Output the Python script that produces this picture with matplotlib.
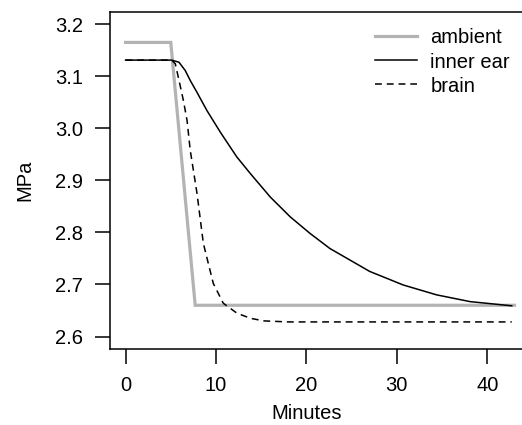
import numpy as np
import matplotlib
matplotlib.use("Agg")
import matplotlib.pyplot as plt

plt.rcParams['font.family'] = ['Liberation Sans', 'DejaVu Sans']

# values
amb_t = [0, 5.0, 7.7, 43]
amb_p = [3.165, 3.165, 2.66, 2.66]

ear_t = [0, 5.1, 5.9, 6.6, 7.15, 7.9, 9.0, 10.5, 12.3, 13.8, 16.0, 18.2, 20.4,
         22.6, 24.8, 27.0, 30.7, 34.4, 38.1, 42.7]
ear_p = [3.131, 3.131, 3.127, 3.111, 3.092, 3.069, 3.034, 2.992, 2.945, 2.913,
         2.868, 2.830, 2.798, 2.769, 2.747, 2.725, 2.699, 2.680, 2.667, 2.659]

brain_t = [0, 5.1, 5.5, 6.0, 6.4, 6.8, 7.15, 7.9, 8.6, 9.7, 10.8, 12.3, 13.8, 15.3, 18.0, 42.7]
brain_p = [3.131, 3.131, 3.124, 3.085, 3.053, 3.015, 2.958, 2.875, 2.779, 2.702, 2.664,
           2.645, 2.635, 2.630, 2.628, 2.628]

xticks = [0, 10, 20, 30, 40]
yticks = [2.6, 2.7, 2.8, 2.9, 3.0, 3.1, 3.2]

fig = plt.figure(figsize=(5.22, 4.25), dpi=100)
ax = fig.add_axes([110/522, 76/425, 420/522, 337.3/425])

ax.plot(amb_t, amb_p, color='#b3b3b3', lw=2.3, label='ambient', solid_joinstyle='miter')
ax.plot(ear_t, ear_p, color='black', lw=1.1, label='inner ear')
ax.plot(brain_t, brain_p, color='black', lw=1.1, ls=(0, (4.5, 3.2)), label='brain')

ax.set_xlim(-1.72, 44.72)
ax.set_ylim(2.576, 3.224)
ax.set_xticks(xticks)
ax.set_xticklabels([str(v) for v in xticks])
ax.set_yticks(yticks)
ax.set_yticklabels(['%.1f' % v for v in yticks])
ax.tick_params(direction='out', length=10.8, width=1.1, pad=8.5, labelsize=14.5)
for s in ax.spines.values():
    s.set_linewidth(1.1)

ax.set_xlabel('Minutes', fontsize=14.5)
ax.set_ylabel('MPa', fontsize=14.5)
ax.xaxis.set_label_coords((307 - 110) / 420, -55/337.3)
ax.yaxis.set_label_coords(-(110 - 34) / 420, 0.5)

fig.legend(loc='upper left', bbox_to_anchor=(375/522, 0.933), frameon=False,
           fontsize=14.5, handlelength=2.1, handletextpad=0.65, labelspacing=0.25,
           borderpad=0, borderaxespad=0)

fig.savefig('out.png', dpi=100)
